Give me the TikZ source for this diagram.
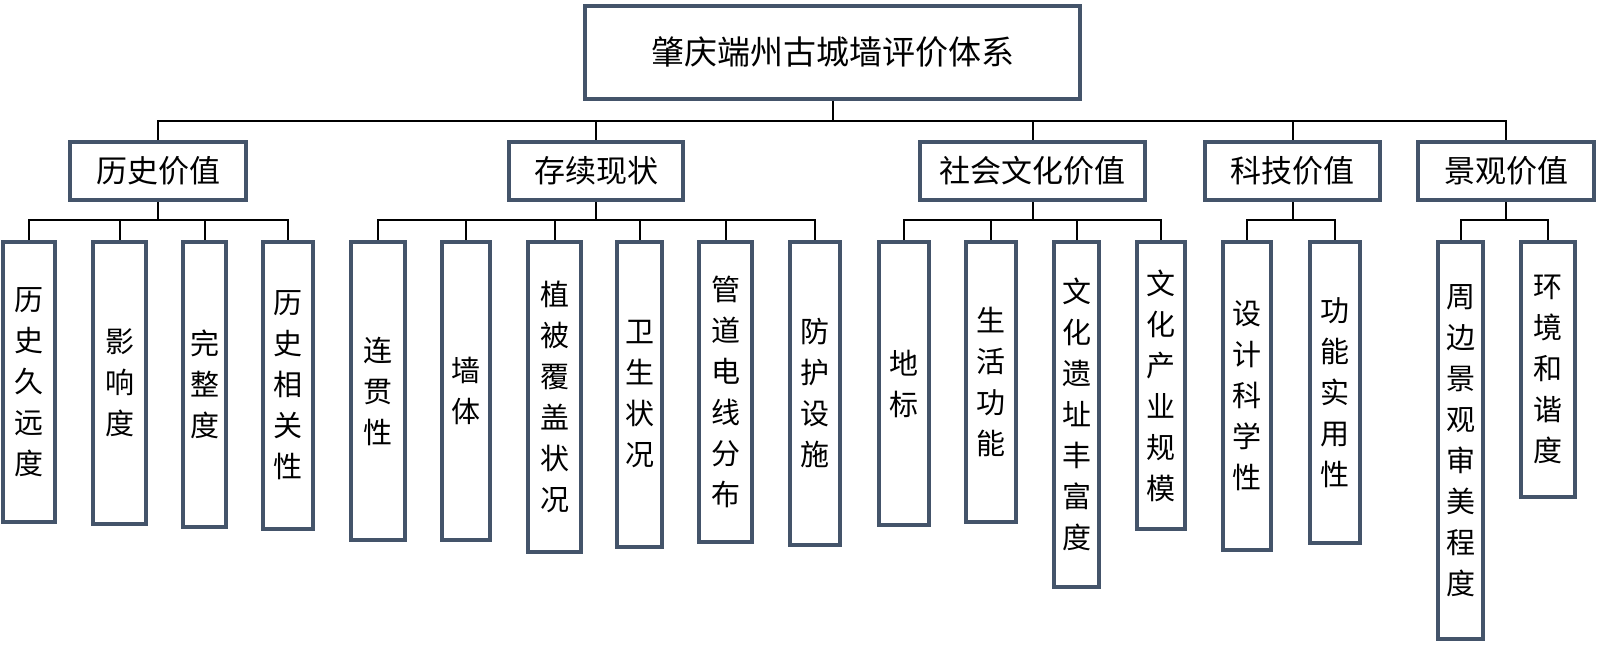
\documentclass[tikz,border=0pt]{standalone}
\usepackage{fontspec}
\newfontfamily\cjk{Noto Sans CJK SC}
\definecolor{boxcol}{RGB}{68,84,106}
\tikzset{
  box/.style={draw=boxcol, line width=4pt, fill=white, inner sep=0pt, align=center, text=black},
  topbox/.style={box, font=\cjk\fontsize{33}{38}\selectfont},
  midbox/.style={box, font=\cjk\fontsize{31}{36}\selectfont},
  leafbox/.style={box, font=\cjk\fontsize{29}{41}\selectfont},
  conn/.style={draw=black, line width=2pt}
}
\newcommand\mkleaf[5]{\node[leafbox, minimum width={#3-#2-4}, minimum height={#4-240-4}] (#1) at ({(#2+#3)/2},{(240+#4)/2}) {#5};}
\newcommand\mkmid[4]{\node[midbox, minimum width={#3-#2-4}, minimum height={58}] (#1) at ({(#2+#3)/2},171) {#4};}
\begin{document}
\begin{tikzpicture}[x=1pt,y=-1pt]
\useasboundingbox (0,0) rectangle (1600,645);
\coordinate (busA) at (0,121);
\coordinate (busB) at (0,220);
% top
\node[topbox, minimum width=495, minimum height=93] (top) at (832.5,52.5) {肇庆端州古城墙评价体系};
% level 2
\mkmid{h1}{68}{248}{历史价值}
\mkmid{h2}{507}{685}{存续现状}
\mkmid{h3}{918}{1147}{社会文化价值}
\mkmid{h4}{1203}{1382}{科技价值}
\mkmid{h5}{1416}{1596}{景观价值}
% leaves
\mkleaf{l11}{1}{57}{524}{历\\史\\久\\远\\度}
\mkleaf{l12}{91}{148}{526}{影\\响\\度}
\mkleaf{l13}{181}{228}{529}{完\\整\\度}
\mkleaf{l14}{261}{315}{531}{历\\史\\相\\关\\性}
\mkleaf{l21}{349}{407}{542}{连\\贯\\性}
\mkleaf{l22}{440}{492}{542}{墙\\体}
\mkleaf{l23}{526}{583}{554}{植\\被\\覆\\盖\\状\\况}
\mkleaf{l24}{615}{664}{549}{卫\\生\\状\\况}
\mkleaf{l25}{697}{754}{544}{管\\道\\电\\线\\分\\布}
\mkleaf{l26}{788}{842}{547}{防\\护\\设\\施}
\mkleaf{l31}{877}{931}{527}{地\\标}
\mkleaf{l32}{964}{1018}{524}{生\\活\\功\\能}
\mkleaf{l33}{1052}{1101}{589}{文\\化\\遗\\址\\丰\\富\\度}
\mkleaf{l34}{1135}{1187}{531}{文\\化\\产\\业\\规\\模}
\mkleaf{l41}{1221}{1273}{552}{设\\计\\科\\学\\性}
\mkleaf{l42}{1308}{1362}{545}{功\\能\\实\\用\\性}
\mkleaf{l51}{1436}{1485}{641}{周\\边\\景\\观\\审\\美\\程\\度}
\mkleaf{l52}{1519}{1577}{499}{环\\境\\和\\谐\\度}
% connectors top -> level 2
\foreach \c in {h1,h2,h3,h4,h5}
  \draw[conn] (top.south) -- (top.south |- busA) -| (\c.north);
% level 2 -> leaves
\foreach \p/\c in {h1/l11,h1/l12,h1/l13,h1/l14,
                   h2/l21,h2/l22,h2/l23,h2/l24,h2/l25,h2/l26,
                   h3/l31,h3/l32,h3/l33,h3/l34,
                   h4/l41,h4/l42,
                   h5/l51,h5/l52}
  \draw[conn] (\p.south) -- (\p.south |- busB) -| (\c.north);
\end{tikzpicture}
\end{document}
